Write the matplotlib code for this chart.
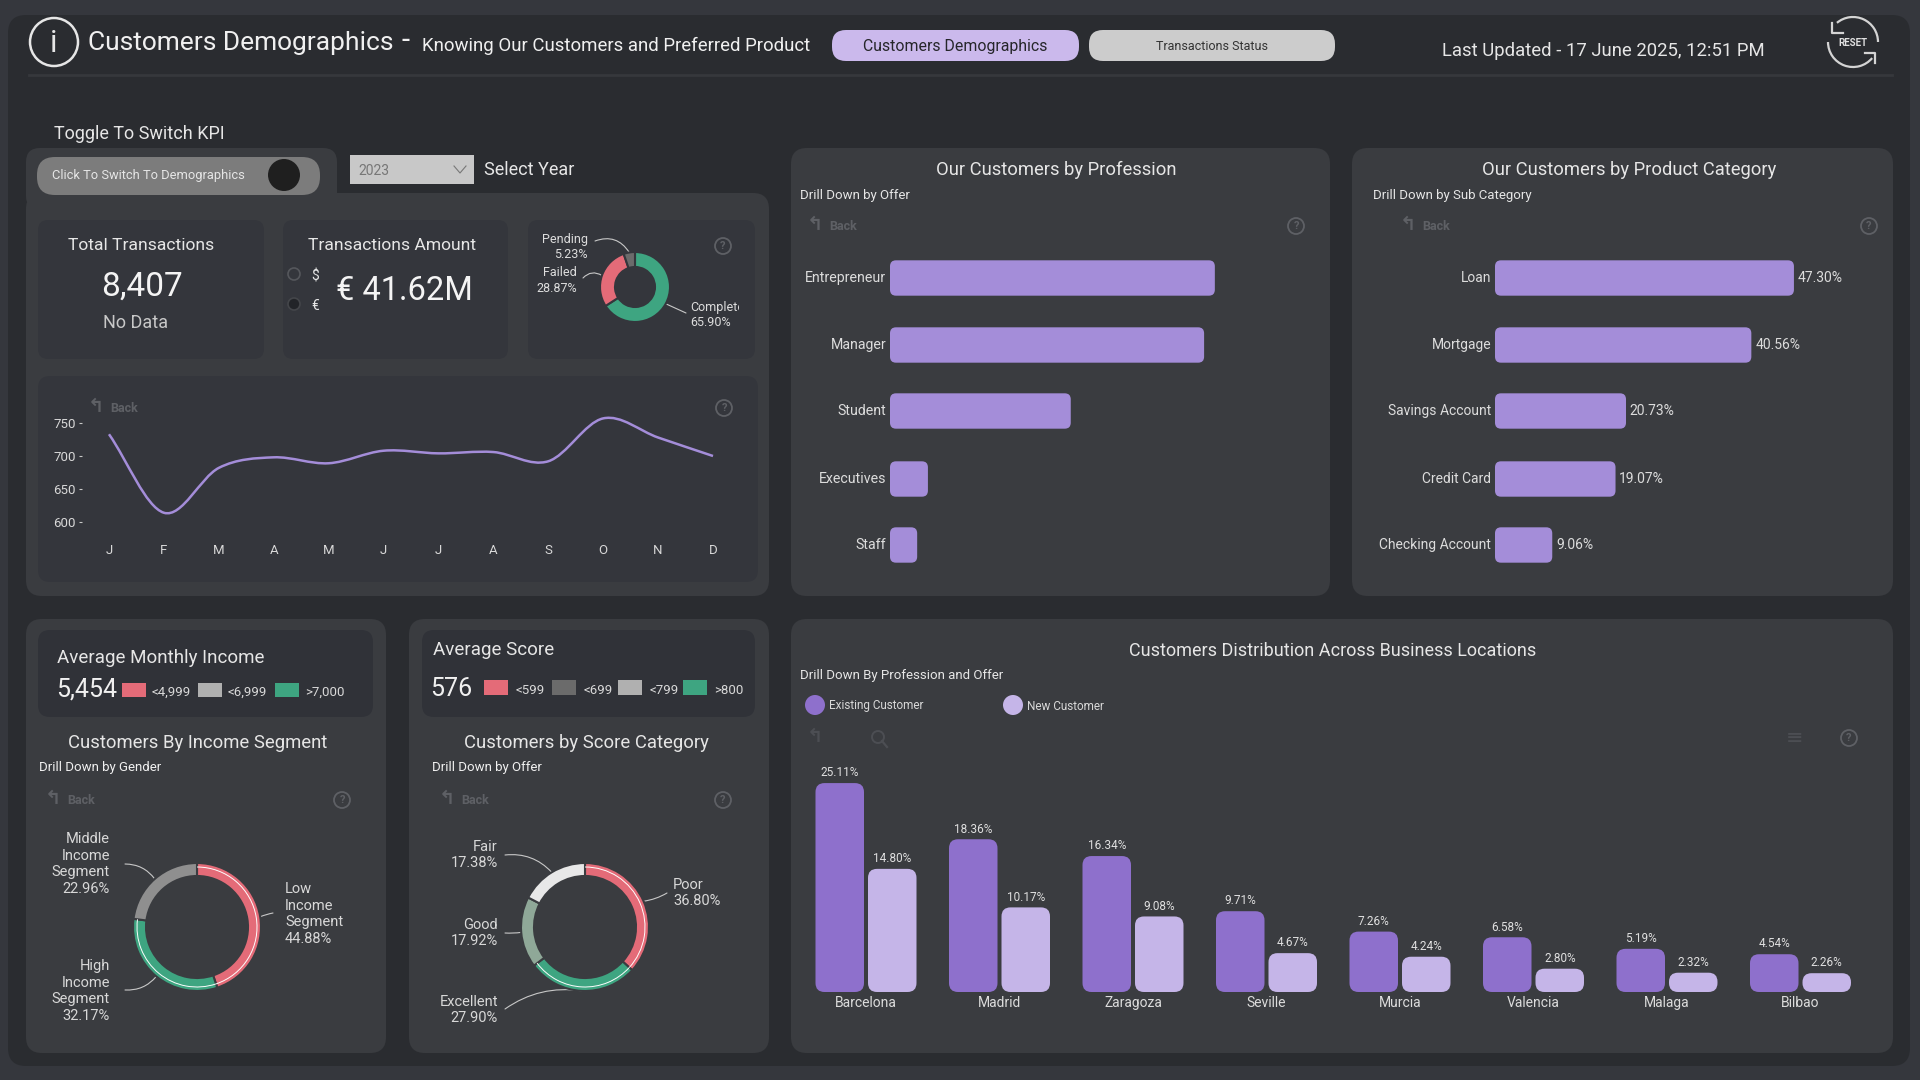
import numpy as np
import matplotlib
matplotlib.use('Agg')
import matplotlib.pyplot as plt
from matplotlib.patches import FancyBboxPatch, Circle, Rectangle, Arc, PathPatch
from matplotlib.path import Path

plt.rcParams['font.family'] = ['Roboto', 'DejaVu Sans']

# data
months = ['J', 'F', 'M', 'A', 'M', 'J', 'J', 'A', 'S', 'O', 'N', 'D']
monthly_tx = [733, 614, 682, 698, 689, 708, 704, 706, 692, 757, 728, 700]

status_names = ['Complete', 'Failed', 'Pending']
status_pct = [65.90, 28.87, 5.23]

professions = ['Entrepreneur', 'Manager', 'Student', 'Executives', 'Staff']
profession_vals = [51.4, 49.7, 28.6, 6.0, 4.3]

products = ['Loan', 'Mortgage', 'Savings Account', 'Credit Card', 'Checking Account']
product_pct = [47.30, 40.56, 20.73, 19.07, 9.06]

income_names = ['Low\nIncome\nSegment', 'High\nIncome\nSegment', 'Middle\nIncome\nSegment']
income_pct = [44.88, 32.17, 22.96]

score_names = ['Poor', 'Excellent', 'Good', 'Fair']
score_pct = [36.80, 27.90, 17.92, 17.38]

cities = ['Barcelona', 'Madrid', 'Zaragoza', 'Seville', 'Murcia', 'Valencia', 'Malaga', 'Bilbao']
existing_pct = [25.11, 18.36, 16.34, 9.71, 7.26, 6.58, 5.19, 4.54]
new_pct = [14.80, 10.17, 9.08, 4.67, 4.24, 2.80, 2.32, 2.26]

# colours
OUTER = '#35373d'
DARK = '#2a2c30'
PANEL = '#3a3c40'
CARD = '#34363c'
INSET = '#303238'
TXT = '#e6e6e6'
FADE = '#5e6065'
RED = '#e46b78'
GREEN = '#3ea581'
GREY = '#8f8f8f'
PURPLE = '#8e70cc'
LILAC = '#c5b5e8'
BARC = '#a48dd9'

W, H = 1920, 1080
fig = plt.figure(figsize=(19.2, 10.8), dpi=100, facecolor=OUTER)
bg = fig.add_axes([0, 0, 1, 1])
bg.set_xlim(0, W)
bg.set_ylim(H, 0)
bg.axis('off')


def ax_px(l, t, r, b):
    ax = fig.add_axes([l/W, 1-b/H, (r-l)/W, (b-t)/H])
    ax.patch.set_alpha(0)
    return ax


def box(l, t, r, b, color, rad=14, z=1):
    p = FancyBboxPatch((l, t), r-l, b-t, boxstyle='round,pad=0,rounding_size=%g' % rad,
                       fc=color, ec='none', zorder=z)
    bg.add_patch(p)
    return p


def label(x, y, s, size=10, color=TXT, ha='left', va='center', z=6, **kw):
    return bg.text(x, y+1, s, fontsize=size, color=color, ha=ha, va=va, zorder=z, **kw)


def help_icon(x, y):
    bg.add_patch(Circle((x, y), 8, fc='none', ec=FADE, lw=1.3, zorder=6))
    label(x, y-1, '?', 8, FADE, ha='center', weight='bold')


def back_icon(x, y):
    label(x, y-2, '\u21b0', 14, FADE, ha='center', family='DejaVu Sans', weight='bold')
    label(x+14, y, 'Back', 9, FADE, weight='bold')


def round_bars(ax, bars, rad_px, color):
    # swap the square bars for rounded ones of the same size
    x0, y0 = ax.transData.transform((0, 0))
    x1, y1 = ax.transData.transform((1, 1))
    ux, uy = 1/abs(x1-x0), 1/abs(y1-y0)
    for b in bars:
        p = FancyBboxPatch((b.get_x(), b.get_y()), b.get_width(), b.get_height(),
                           boxstyle='round,pad=0,rounding_size=%g' % (rad_px*ux),
                           mutation_aspect=uy/ux, fc=color, ec='none', clip_on=False)
        ax.add_patch(p)
        b.set_visible(False)


def smooth_path(x, y):
    # bezier segments through the points, tangents from the neighbours
    x, y = np.asarray(x, float), np.asarray(y, float)
    dx, dy = np.gradient(x), np.gradient(y)
    verts, codes = [(x[0], y[0])], [Path.MOVETO]
    for i in range(len(x)-1):
        verts += [(x[i]+dx[i]/3, y[i]+dy[i]/3), (x[i+1]-dx[i+1]/3, y[i+1]-dy[i+1]/3), (x[i+1], y[i+1])]
        codes += [Path.CURVE4]*3
    return Path(verts, codes)


def donut(cx, cy, r, inner, values, colors, edge, line_colors=None):
    ax = ax_px(cx-r, cy-r, cx+r, cy+r)
    ax.pie(values, colors=colors, startangle=90, counterclock=False, radius=1,
           wedgeprops=dict(width=(r-inner)/r, edgecolor=edge, linewidth=1.5))
    if line_colors:
        ax.pie(values, colors=line_colors, startangle=90, counterclock=False, radius=0.945,
               wedgeprops=dict(width=0.015, linewidth=0))
    ax.set_xlim(-1, 1)
    ax.set_ylim(-1, 1)
    # middle of each slice on the outer edge, in picture pixels
    v = np.asarray(values, float)
    mids = (np.cumsum(v) - v/2) / v.sum() * 2*np.pi
    return [(cx + r*np.sin(a), cy - r*np.cos(a)) for a in mids]


def leader(start, end, rad):
    bg.annotate('', xy=start, xytext=end, zorder=5,
                arrowprops=dict(arrowstyle='-', color='#c8c8c8', lw=0.8, shrinkA=0, shrinkB=0,
                                connectionstyle='arc3,rad=%g' % rad))


# page frame
box(8, 15, 1910, 1066, DARK, rad=18)
bg.plot([29, 1892], [75, 75], color='#36383c', lw=2, zorder=2)

# header
bg.add_patch(Circle((54, 42), 24, fc='none', ec=TXT, lw=1.8, zorder=6))
label(54, 42, 'i', 22, TXT, ha='center')
label(88, 42, 'Customers Demographics', 19, '#f0f0f0')
label(402, 40, '-', 21, '#f0f0f0')
label(422, 45, 'Knowing Our Customers and Preferred Product', 13.4, '#f0f0f0')
box(832, 30, 1079, 61, '#cbb9ec', rad=14, z=2)
label(955, 45, 'Customers Demographics', 11.4, '#26262a', ha='center')
box(1089, 30, 1335, 61, '#cccccc', rad=14, z=2)
label(1212, 45, 'Transactions Status', 9, '#333333', ha='center')
label(1442, 50, 'Last Updated - 17 June 2025, 12:51 PM', 13.35, TXT)
# reset icon
RC = '#d4d4d4'
bg.add_patch(Arc((1853, 42), 50, 50, theta1=-130, theta2=0, ec=RC, lw=1.6, zorder=6))
bg.add_patch(Arc((1853, 42), 50, 50, theta1=40, theta2=180, ec=RC, lw=1.6, zorder=6))
bg.plot([1832, 1832, 1843], [23, 33, 33], color=RC, lw=1.6, zorder=6)
bg.plot([1865, 1875, 1875], [53, 53, 63], color=RC, lw=1.6, zorder=6)
label(1853, 42, 'RESET', 7, '#e0e0e0', ha='center', weight='bold', z=7)

# toggle row
label(54, 133, 'Toggle To Switch KPI', 13, TXT)
box(26, 148, 337, 210, PANEL, rad=14)
box(37, 157, 320, 195, '#7c7c7c', rad=18, z=2)
bg.add_patch(Circle((284, 175), 16, fc='#1f1f1f', ec='none', zorder=3))
label(52, 175, 'Click To Switch To Demographics', 9.3, TXT)
bg.add_patch(Rectangle((350, 155), 124, 29, fc='#c8c8c8', ec='none', zorder=2))
label(358, 170, '2023', 10, '#777777')
bg.plot([454, 460, 466], [166, 173, 166], color='#777777', lw=0.8, zorder=6)
label(484, 169, 'Select Year', 13, TXT)

# big panels
box(26, 193, 769, 596, PANEL, rad=16)
box(791, 148, 1330, 596, PANEL, rad=16)
box(1352, 148, 1893, 596, PANEL, rad=16)
box(26, 619, 386, 1053, PANEL, rad=16)
box(409, 619, 769, 1053, PANEL, rad=16)
box(791, 619, 1893, 1053, PANEL, rad=16)

# kpi cards
box(38, 220, 264, 359, CARD, rad=10, z=2)
box(283, 220, 508, 359, CARD, rad=10, z=2)
box(528, 220, 755, 359, CARD, rad=10, z=2)
box(38, 376, 758, 582, CARD, rad=12, z=2)
label(141, 245, 'Total Transactions', 12.6, TXT, ha='center')
label(142, 286, '8,407', 24, '#f4f4f4', ha='center')
label(136, 322, 'No Data', 13, '#c8c8c8', ha='center')
label(392, 245, 'Transactions Amount', 12.6, TXT, ha='center')
label(404, 290, '\u20ac 41.62M', 23.5, '#f4f4f4', ha='center')
bg.add_patch(Circle((294, 274), 6, fc='none', ec='#55575c', lw=1.2, zorder=6))
bg.add_patch(Circle((294, 304), 6, fc='#222428', ec='#44464a', lw=1.2, zorder=6))
label(315, 275, '$', 10, TXT, ha='center')
label(315, 305, '\u20ac', 10, TXT, ha='center')

# status donut
status_pts = donut(635, 287, 35, 20, status_pct, [GREEN, RED, '#6b6b6b'], CARD)
leader(status_pts[2], (595, 241), -0.4)
leader(status_pts[1], (583, 278), -0.4)
leader(status_pts[0], (686, 313), 0)
label(588, 238, 'Pending', 9, '#dddddd', ha='right')
label(588, 253, '%.2f%%' % status_pct[2], 9, '#dddddd', ha='right')
label(577, 272, 'Failed', 9, '#dddddd', ha='right')
label(577, 287, '%.2f%%' % status_pct[1], 9, '#dddddd', ha='right')
t = label(690, 306, 'Complete', 9, '#dddddd')
t.set_clip_on(True)
t.set_clip_path(Rectangle((690, 290), 49, 30, transform=bg.transData))
label(690, 321, '%.2f%%' % status_pct[0], 9, '#dddddd')
help_icon(723, 246)

# monthly line
ax = ax_px(82, 423, 740, 522)
unit = (713-109)/11
ax.set_xlim(-27/unit, 11+27/unit)
ax.set_ylim(600, 750)
ax.add_patch(PathPatch(smooth_path(range(12), monthly_tx), fc='none', ec=BARC, lw=1.8, clip_on=False))
for s in ax.spines.values():
    s.set_visible(False)
ax.set_xticks(range(12))
ax.set_xticklabels(months)
ax.set_yticks([600, 650, 700, 750])
ax.tick_params(axis='x', length=0, pad=16, labelsize=9.5, labelcolor='#d8d8d8')
ax.tick_params(axis='y', length=2.5, width=0.8, color='#c8c8c8', pad=2, labelsize=9.5, labelcolor='#d8d8d8')
back_icon(96, 408)
help_icon(724, 408)

# profession bars
label(1056, 169, 'Our Customers by Profession', 13.2, TXT, ha='center')
label(800, 195, 'Drill Down by Offer', 9.5, TXT)
back_icon(815, 226)
help_icon(1296, 226)
ax = ax_px(890, 245, 1300, 578)
ax.set_xlim(0, 410/6.32)
ypos = [(278-245)/66.75, (345-245)/66.75, (411-245)/66.75, (479-245)/66.75, (545-245)/66.75]
ax.set_ylim(333/66.75, 0)
ax.set_axis_off()
round_bars(ax, ax.barh(ypos, profession_vals, height=0.53), 6, BARC)
for y, name in zip(ypos, professions):
    ax.text(-0.6, y, name, color='#dcdcdc', fontsize=10.2, ha='right', va='center')

# product bars
label(1629, 169, 'Our Customers by Product Category', 13.2, TXT, ha='center')
label(1373, 195, 'Drill Down by Sub Category', 9.5, TXT)
back_icon(1408, 226)
help_icon(1869, 226)
ax = ax_px(1495, 245, 1880, 578)
ax.set_xlim(0, 385/6.32)
ax.set_ylim(333/66.75, 0)
ax.set_axis_off()
round_bars(ax, ax.barh(ypos, product_pct, height=0.53), 6, BARC)
for y, name, v in zip(ypos, products, product_pct):
    ax.text(-0.6, y, name, color='#dcdcdc', fontsize=10, ha='right', va='center')
    ax.text(v+0.6, y, '%.2f%%' % v, color='#dcdcdc', fontsize=10, ha='left', va='center')

# income panel
box(38, 630, 373, 717, INSET, rad=12, z=2)
label(57, 657, 'Average Monthly Income', 13.5, TXT)
label(56, 689, '5,454', 18, '#f0f0f0')
for x0, c, s in [(122, RED, '<4,999'), (198, '#b0b0b0', '<6,999'), (275, GREEN, '>7,000')]:
    bg.add_patch(Rectangle((x0, 683), 24, 14, fc=c, ec='none', zorder=6))
    label(x0+30, 691, s, 9.5, '#d8d8d8')
label(198, 742, 'Customers By Income Segment', 13.3, TXT, ha='center')
label(39, 767, 'Drill Down by Gender', 9.5, '#f0f0f0')
back_icon(53, 800)
help_icon(342, 800)
income_pts = donut(197, 927, 64, 51, income_pct, [RED, GREEN, GREY], PANEL, ['white', 'white', 'none'])
leader(income_pts[0], (273, 913), 0.05)
leader(income_pts[1], (125, 990), 0.25)
leader(income_pts[2], (125, 864), -0.25)
lbl_kw = dict(size=10.5, color='#d8d8d8', linespacing=1.27)
label(285, 913, income_names[0] + '\n%.2f%%' % income_pct[0], ha='left', **lbl_kw)
label(110, 990, income_names[1] + '\n%.2f%%' % income_pct[1], ha='right', multialignment='right', **lbl_kw)
label(110, 863, income_names[2] + '\n%.2f%%' % income_pct[2], ha='right', multialignment='right', **lbl_kw)

# score panel
box(422, 630, 755, 717, INSET, rad=12, z=2)
label(433, 649, 'Average Score', 13.5, TXT)
label(430, 688, '576', 18, '#f0f0f0')
for x0, c, s in [(484, RED, '<599'), (552, '#6b6b6b', '<699'), (618, '#b0b0b0', '<799'), (683, GREEN, '>800')]:
    bg.add_patch(Rectangle((x0, 680), 24, 15, fc=c, ec='none', zorder=6))
    label(x0+31, 689, s, 9.5, '#d8d8d8')
label(586, 742, 'Customers by Score Category', 13.3, TXT, ha='center')
label(432, 767, 'Drill Down by Offer', 9.5, '#f0f0f0')
back_icon(447, 800)
help_icon(723, 800)
score_pts = donut(585, 927, 64, 51, score_pct, [RED, GREEN, '#8fa898', '#e8e8e8'], PANEL,
                  ['white', 'white', 'none', 'none'])
leader(score_pts[0], (667, 893), -0.1)
leader(score_pts[1], (505, 1009), -0.2)
leader(score_pts[2], (505, 933), 0.05)
leader(score_pts[3], (505, 855), -0.25)
label(673, 892, score_names[0] + '\n%.2f%%' % score_pct[0], ha='left', **lbl_kw)
label(498, 1009, score_names[1] + '\n%.2f%%' % score_pct[1], ha='right', multialignment='right', **lbl_kw)
label(498, 932, score_names[2] + '\n%.2f%%' % score_pct[2], ha='right', multialignment='right', **lbl_kw)
label(498, 854, score_names[3] + '\n%.2f%%' % score_pct[3], ha='right', multialignment='right', **lbl_kw)

# locations chart
label(1333, 650, 'Customers Distribution Across Business Locations', 13, TXT, ha='center')
label(800, 675, 'Drill Down By Profession and Offer', 9.5, TXT)
bg.add_patch(Circle((815, 705), 10, fc=PURPLE, ec='none', zorder=6))
label(829, 705, 'Existing Customer', 8.5, '#d8d8d8')
bg.add_patch(Circle((1013, 705), 10, fc=LILAC, ec='none', zorder=6))
label(1027, 705, 'New Customer', 8.5, '#d8d8d8')
label(815, 736, '\u21b0', 14, '#4c4e53', ha='center', family='DejaVu Sans', weight='bold')
bg.add_patch(Circle((878, 737), 6, fc='none', ec='#4c4e53', lw=1.4, zorder=6))
bg.plot([882, 887], [741, 747], color='#4c4e53', lw=1.6, zorder=6)
label(1795, 737, '\u2261', 15, '#4c4e53', ha='center', family='DejaVu Sans')
help_icon(1849, 738)

ax = ax_px(800, 760, 1880, 992)
ax.set_xlim((800-866)/133.5, (1880-866)/133.5)
ax.set_ylim(0, 232/8.32)
for s in ax.spines.values():
    s.set_visible(False)
gx = np.arange(len(cities))
bw = 48.5/133.5
off = 26.25/133.5
round_bars(ax, ax.bar(gx-off, existing_pct, bw), 9, PURPLE)
round_bars(ax, ax.bar(gx+off, new_pct, bw), 9, LILAC)
for i in gx:
    ax.text(i-off, existing_pct[i]+0.45, '%.2f%%' % existing_pct[i], color='#e0e0e0', fontsize=8.5, ha='center', va='bottom')
    ax.text(i+off, new_pct[i]+0.45, '%.2f%%' % new_pct[i], color='#e0e0e0', fontsize=8.5, ha='center', va='bottom')
ax.set_xticks(gx)
ax.set_xticklabels(cities)
ax.set_yticks([])
ax.tick_params(axis='x', length=0, pad=3, labelsize=10, labelcolor='#dcdcdc')

fig.savefig('out.png', dpi=100, facecolor=OUTER)
